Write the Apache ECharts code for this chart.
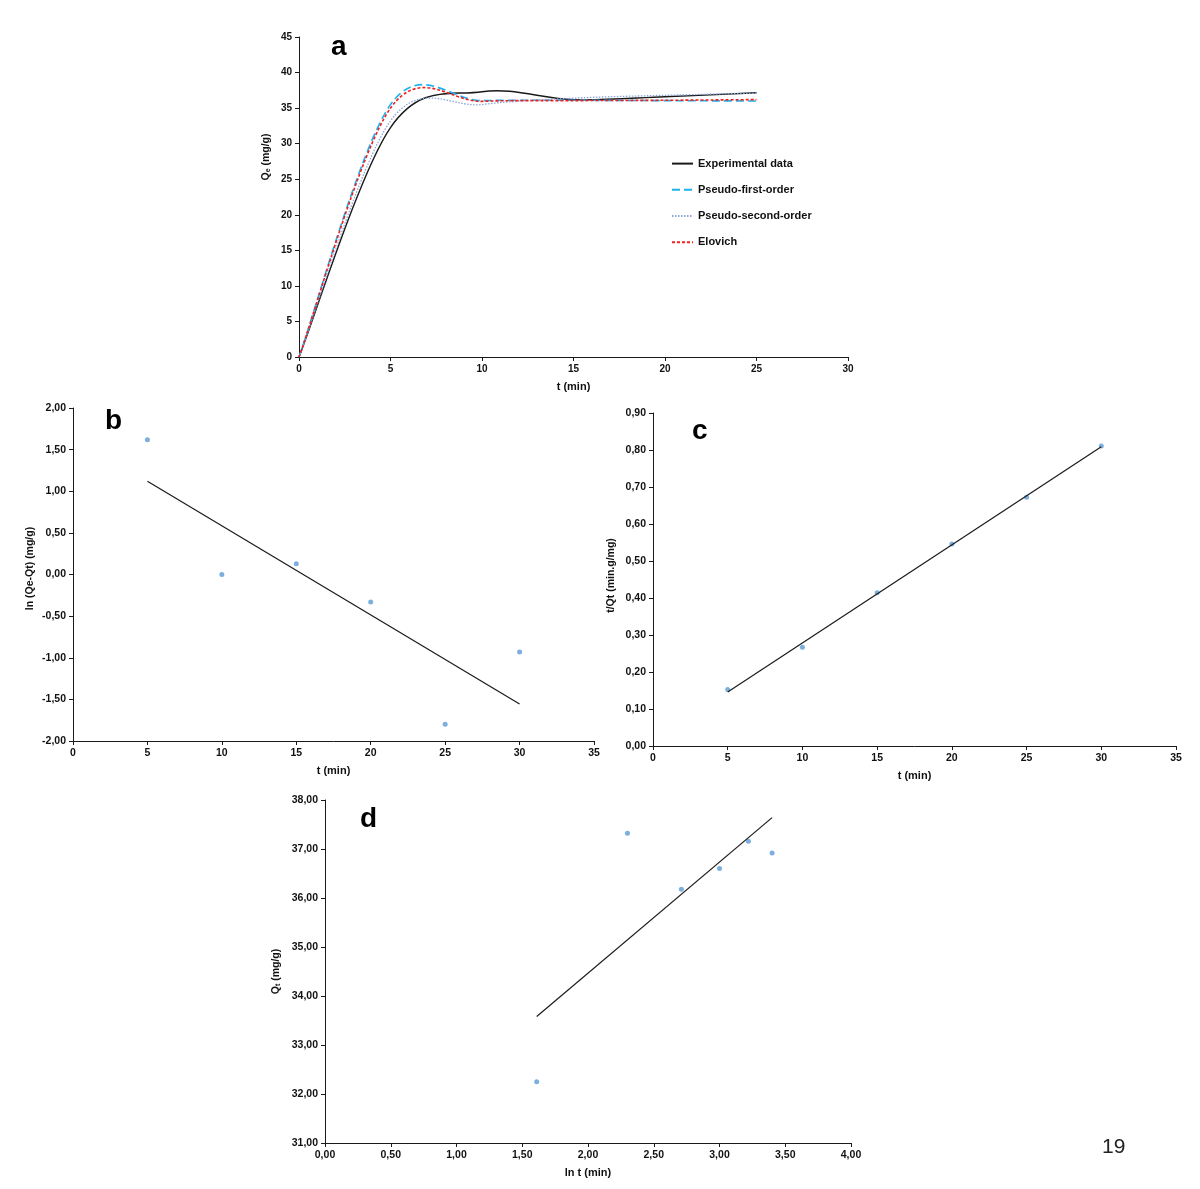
<!DOCTYPE html>
<html>
<head>
<meta charset="utf-8">
<script src="https://cdn.jsdelivr.net/npm/echarts@6/dist/echarts.min.js"></script>
<style>
html,body{margin:0;padding:0;background:#fff;}
#chart{width:1200px;height:1189px;}
</style>
</head>
<body>
<div id="chart"></div>
<script>
// ---- Panel a: kinetic curves ----
const tA = [0, 5, 10, 15, 20, 25];
const expA = [0, 32.27, 37.3, 36.18, 36.6, 37.15];
const pfoA = [0, 35.5, 36.05, 36.1, 36.05, 36.0];
const psoA = [0, 33.2, 35.5, 36.4, 36.8, 37.1];
const eloA = [0, 35.0, 35.95, 36.05, 36.1, 36.2];
const legendA = ['Experimental data', 'Pseudo-first-order', 'Pseudo-second-order', 'Elovich'];

// ---- Panel b: pseudo-first-order linear plot ----
const tB = [5, 10, 15, 20, 25, 30];
const lnB = [1.62, 0.00, 0.13, -0.33, -1.80, -0.93];
const fitBx = [5, 30];
const fitBy = [1.12, -1.555];

// ---- Panel c: pseudo-second-order linear plot ----
const tC = [5, 10, 15, 20, 25, 30];
const tqC = [0.153, 0.267, 0.414, 0.546, 0.672, 0.811];
const fitCx = [5, 30];
const fitCy = [0.146, 0.809];

// ---- Panel d: Elovich linear plot ----
const lntD = [1.61, 2.30, 2.71, 3.00, 3.22, 3.40];
const qtD = [32.25, 37.32, 36.18, 36.6, 37.16, 36.92];
const fitDx = [1.61, 3.40];
const fitDy = [33.58, 37.64];

const FONT = "'Liberation Sans', Arial, sans-serif";
const zip = (xs, ys) => xs.map((x, i) => [x, ys[i]]);
const comma = v => v.toFixed(2).replace('.', ',');

function axis(gridIndex, min, max, interval, fs, fmt, extra) {
  return Object.assign({
    type: 'value', gridIndex, min, max, interval,
    axisLine: {show: true, onZero: false, lineStyle: {color: '#1a1a1a', width: 1}},
    axisTick: {show: true, inside: false, length: 4, lineStyle: {color: '#1a1a1a', width: 1}},
    splitLine: {show: false},
    axisLabel: {color: '#111', fontWeight: 'bold', fontSize: fs, fontFamily: FONT, margin: 7,
      formatter: fmt || (v => String(v))},
    nameLocation: 'middle',
    nameTextStyle: {color: '#111', fontWeight: 'bold', fontSize: 11, fontFamily: FONT}
  }, extra || {});
}

// Smoothed curve (Excel-like cardinal spline) through the data points,
// positioned with the chart's own coordinate system (api.coord).
function smoothRenderer(xs, ys, style) {
  return function (params, api) {
    if (params.dataIndex !== 0) return null;
    const P = xs.map((x, i) => api.coord([x, ys[i]]));
    const n = P.length;
    let d = 'M' + P[0][0] + ' ' + P[0][1];
    for (let i = 0; i < n - 1; i++) {
      const p0 = P[Math.max(i - 1, 0)], p1 = P[i], p2 = P[i + 1], p3 = P[Math.min(i + 2, n - 1)];
      const c1x = p1[0] + (p2[0] - p0[0]) / 6, c1y = p1[1] + (p2[1] - p0[1]) / 6;
      const c2x = p2[0] - (p3[0] - p1[0]) / 6, c2y = p2[1] - (p3[1] - p1[1]) / 6;
      d += ' C' + c1x + ' ' + c1y + ' ' + c2x + ' ' + c2y + ' ' + p2[0] + ' ' + p2[1];
    }
    return {type: 'path', shape: {pathData: d}, style: Object.assign({fill: null}, style), silent: true};
  };
}

const stylesA = [
  {stroke: '#1a1a1a', lineWidth: 1.4},
  {stroke: '#1fb2ee', lineWidth: 1.6, lineDash: [8, 4]},
  {stroke: '#8aa4d8', lineWidth: 1.3, lineDash: [1.5, 1.5]},
  {stroke: '#f02020', lineWidth: 1.6, lineDash: [3, 2]}
];
const seriesDataA = [expA, pfoA, psoA, eloA];

const legendSeries = legendA.map((name, k) => ({
  name, type: 'line', xAxisIndex: 0, yAxisIndex: 0, data: [],
  symbol: 'none',
  lineStyle: {color: stylesA[k].stroke, width: stylesA[k].lineWidth, type: stylesA[k].lineDash || 'solid'},
  itemStyle: {color: stylesA[k].stroke}
}));
const curveSeries = seriesDataA.map((ys, k) => ({
  name: legendA[k] + ' curve', type: 'custom', xAxisIndex: 0, yAxisIndex: 0,
  coordinateSystem: 'cartesian2d',
  data: zip(tA, ys),
  renderItem: smoothRenderer(tA, ys, stylesA[k]),
  z: 3 + k
}));

const chart = echarts.init(document.getElementById('chart'), null, {renderer: 'canvas'});

const option = {
  backgroundColor: '#fff',
  animation: false,
  grid: [
    {left: 299, top: 37, width: 549, height: 320},
    {left: 73, top: 408, width: 521, height: 333},
    {left: 653, top: 413, width: 523, height: 333},
    {left: 325, top: 800, width: 526, height: 343}
  ],
  legend: {
    data: legendA,
    orient: 'vertical',
    left: 671, top: 158, padding: 0,
    itemWidth: 21, itemHeight: 14, itemGap: 15,
    itemStyle: {opacity: 0},
    textStyle: {color: '#111', fontWeight: 'bold', fontSize: 11, fontFamily: FONT}
  },
  xAxis: [
    axis(0, 0, 30, 5, 10, null, {name: 't (min)', nameGap: 24}),
    axis(1, 0, 35, 5, 10.5, null, {name: 't (min)', nameGap: 24}),
    axis(2, 0, 35, 5, 10.5, null, {name: 't (min)', nameGap: 24}),
    axis(3, 0, 4, 0.5, 10.5, comma, {name: 'ln t (min)', nameGap: 24})
  ],
  yAxis: [
    axis(0, 0, 45, 5, 10, null, {
      name: '{n|Q}{s|e}{n| (mg/g)}', nameGap: 27, nameRotate: 90,
      nameTextStyle: {padding: [0, 0, 0, 80], rich: {
        n: {fontWeight: 'bold', fontSize: 10.5, fontFamily: FONT, color: '#111'},
        s: {fontWeight: 'bold', fontSize: 7, fontFamily: FONT, color: '#111', padding: [5, 0, 0, 0]}
      }}
    }),
    axis(1, -2, 2, 0.5, 10.5, comma, {name: 'ln (Qe-Qt) (mg/g)', nameGap: 37, nameRotate: 90,
      nameTextStyle: {color: '#111', fontWeight: 'bold', fontSize: 10.5, fontFamily: FONT, padding: [0, 0, 0, 12]}}),
    axis(2, 0, 0.9, 0.1, 10.5, comma, {name: 't/Qt (min.g/mg)', nameGap: 36, nameRotate: 90,
      nameTextStyle: {color: '#111', fontWeight: 'bold', fontSize: 10.5, fontFamily: FONT, padding: [0, 0, 0, 8]}}),
    axis(3, 31, 38, 1, 10.5, comma, {
      name: '{n|Q}{s|t}{n| (mg/g)}', nameGap: 43, nameRotate: 90,
      nameTextStyle: {rich: {
        n: {fontWeight: 'bold', fontSize: 10.5, fontFamily: FONT, color: '#111'},
        s: {fontWeight: 'bold', fontSize: 7, fontFamily: FONT, color: '#111', padding: [5, 0, 0, 0]}
      }}
    })
  ],
  series: legendSeries.concat(curveSeries).concat([
    {name: 'b-points', type: 'scatter', xAxisIndex: 1, yAxisIndex: 1, data: zip(tB, lnB),
      symbolSize: 5, itemStyle: {color: '#5b9bd5'}},
    {name: 'b-fit', type: 'line', xAxisIndex: 1, yAxisIndex: 1, data: zip(fitBx, fitBy),
      symbol: 'none', lineStyle: {color: '#1a1a1a', width: 1.2}},

    {name: 'c-points', type: 'scatter', xAxisIndex: 2, yAxisIndex: 2, data: zip(tC, tqC),
      symbolSize: 5, itemStyle: {color: '#5b9bd5'}},
    {name: 'c-fit', type: 'line', xAxisIndex: 2, yAxisIndex: 2, data: zip(fitCx, fitCy),
      symbol: 'none', lineStyle: {color: '#1a1a1a', width: 1.2}},

    {name: 'd-points', type: 'scatter', xAxisIndex: 3, yAxisIndex: 3, data: zip(lntD, qtD),
      symbolSize: 5, itemStyle: {color: '#5b9bd5'}},
    {name: 'd-fit', type: 'line', xAxisIndex: 3, yAxisIndex: 3, data: zip(fitDx, fitDy),
      symbol: 'none', lineStyle: {color: '#1a1a1a', width: 1.2}}
  ]),
  graphic: [
    {type: 'text', left: 331, top: 33, style: {text: 'a', font: "bold 28px 'Liberation Sans', Arial", fill: '#000'}},
    {type: 'text', left: 105, top: 407, style: {text: 'b', font: "bold 28px 'Liberation Sans', Arial", fill: '#000'}},
    {type: 'text', left: 692, top: 417, style: {text: 'c', font: "bold 28px 'Liberation Sans', Arial", fill: '#000'}},
    {type: 'text', left: 360, top: 805, style: {text: 'd', font: "bold 28px 'Liberation Sans', Arial", fill: '#000'}},
    {type: 'text', left: 1102, top: 1137, style: {text: '19', font: "21px 'Liberation Sans', Arial", fill: '#222'}}
  ]
};
chart.setOption(option);
</script>
</body>
</html>
